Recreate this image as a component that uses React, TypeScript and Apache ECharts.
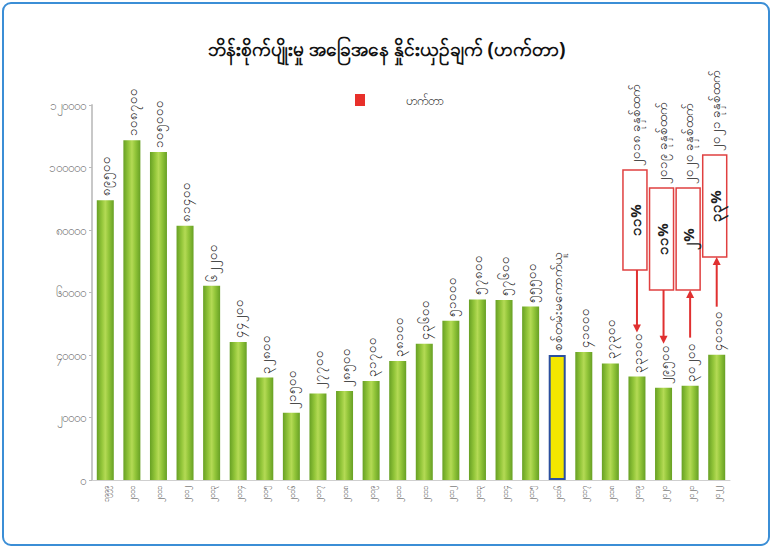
import React, { useEffect, useRef } from "react";
import * as echarts from "echarts";

const titleText = "ဘိန်းစိုက်ပျိုးမှု အခြေအနေ နှိုင်းယှဉ်ချက် (ဟက်တာ)";
const seriesName = "ဟက်တာ";
const years = [
  "၁၉၉၉", "၂၀၀၀", "၂၀၀၁", "၂၀၀၂", "၂၀၀၃", "၂၀၀၄", "၂၀၀၅", "၂၀၀၆",
  "၂၀၀၇", "၂၀၀၈", "၂၀၀၉", "၂၀၁၀", "၂၀၁၁", "၂၀၁၂", "၂၀၁၃", "၂၀၁၄",
  "၂၀၁၅", "၂၀၁၆", "၂၀၁၇", "၂၀၁၈", "၂၀၁၉", "၂၀၂၀", "၂၀၂၁", "၂၀၂၂",
];
const hectares = [
  89500, 108700, 105000, 81400, 62200, 44200, 32800, 21500,
  27700, 28500, 31700, 38100, 43600, 51000, 57800, 57600,
  55500, 40000, 41000, 37300, 33100, 29500, 30200, 40100,
];
const noSurveyIndex = 17;
const noSurveyLabel = "စစ်တမ်းမကောက်ယူ";
const yTicks = ["၀", "၂၀၀၀၀", "၄၀၀၀၀", "၆၀၀၀၀", "၈၀၀၀၀", "၁၀၀၀၀၀", "၁၂၀၀၀၀"];

const annotIndex = [20, 21, 22, 23];
const annotPct = ["၁၁%", "၁၁%", "၂%", "၃၃%"];
const annotNote = ["၂၀၁၈ ခုနှစ်ထက်", "၂၀၁၉ ခုနှစ်ထက်", "၂၀၂၀ ခုနှစ်ထက်", "၂၀၂၁ ခုနှစ်ထက်"];
const annotDir = ["down", "down", "up", "up"];

const mmDigits = ["၀", "၁", "၂", "၃", "၄", "၅", "၆", "၇", "၈", "၉"];
const toMM = (v: number) => String(v).replace(/[0-9]/g, (d) => mmDigits[+d]);

const FONT = "'Noto Sans', 'DejaVu Sans', sans-serif";

export default function App() {
  const ref = useRef<HTMLDivElement>(null);
  useEffect(() => {
    if (!ref.current) return;
    const chart = echarts.init(ref.current, undefined, { renderer: "svg" });
    const green = new echarts.graphic.LinearGradient(0, 0, 1, 0, [
      { offset: 0, color: "#67a024" },
      { offset: 0.3, color: "#93c63a" },
      { offset: 0.5, color: "#b4da55" },
      { offset: 0.7, color: "#93c63a" },
      { offset: 1, color: "#67a024" },
    ]);
    const data = hectares.map((v, i) =>
      i === noSurveyIndex
        ? {
            value: v,
            itemStyle: { color: "#f4e600", borderColor: "#2b4f9e", borderWidth: 2 },
            label: { formatter: noSurveyLabel },
          }
        : { value: v }
    );
    chart.setOption({
      animation: false,
      backgroundColor: "#ffffff",
      textStyle: { fontFamily: FONT },
      title: {
        text: titleText,
        left: "center",
        top: 34,
        textStyle: { fontSize: 19, fontWeight: "bold", color: "#111", fontFamily: FONT },
      },
      legend: {
        data: [{ name: seriesName, itemStyle: { color: "#e8302a" } }],
        left: 350,
        top: 89,
        icon: "rect",
        itemWidth: 10,
        itemHeight: 12,
        textStyle: { fontSize: 12, color: "#333", padding: [0, 0, 0, 36] },
      },
      grid: { left: 92, right: 43, top: 105, bottom: 70 },
      xAxis: {
        type: "category",
        data: years,
        axisLine: { lineStyle: { color: "#cfcfcf" } },
        axisTick: { show: false },
        axisLabel: { rotate: 90, fontSize: 8, color: "#444", margin: 6 },
      },
      yAxis: {
        type: "value",
        min: 0,
        max: 120000,
        interval: 20000,
        axisLine: { show: true, lineStyle: { color: "#c8c8c8", width: 2 } },
        axisTick: { show: true, length: 3, lineStyle: { color: "#bbb" } },
        splitLine: { show: false },
        axisLabel: {
          fontSize: 12,
          color: "#777",
          margin: 6,
          formatter: (v: number) => yTicks[Math.round(v / 20000)],
        },
      },
      series: [
        {
          name: seriesName,
          type: "bar",
          data,
          barWidth: 17,
          itemStyle: { color: green },
          label: {
            show: true,
            position: "top",
            rotate: 90,
            align: "left",
            verticalAlign: "middle",
            distance: 4,
            fontSize: 13,
            color: "#222",
            formatter: (p: any) => toMM(p.value),
          },
        },
      ],
    });

    const graphics: any[] = [
      {
        type: "rect",
        shape: { x: 3, y: 3, width: 766, height: 542, r: 8 },
        style: { fill: "none", stroke: "#3b8ed6", lineWidth: 2 },
        silent: true,
      },
    ];
    const boxTop = [170, 188, 188, 155];
    const boxBottom = [270, 290, 290, 257];
    annotIndex.forEach((idx, k) => {
      const cx = chart.convertToPixel({ xAxisIndex: 0 }, idx) as number;
      const barTop = chart.convertToPixel({ yAxisIndex: 0 }, hectares[idx]) as number;
      const bx = cx - 2;
      const w = 24;
      const top = boxTop[k];
      const bottom = boxBottom[k];
      graphics.push({
        type: "rect",
        shape: { x: bx - w / 2, y: top, width: w, height: bottom - top },
        style: { fill: "#fff", stroke: "#e04040", lineWidth: 1.5 },
      });
      graphics.push({
        type: "text",
        x: bx,
        y: (top + bottom) / 2,
        rotation: Math.PI / 2,
        style: {
          text: annotPct[k],
          fontSize: 15,
          fontWeight: "bold",
          fill: "#222",
          align: "center",
          verticalAlign: "middle",
          fontFamily: FONT,
        },
      });
      graphics.push({
        type: "text",
        x: bx,
        y: top - 4,
        rotation: Math.PI / 2,
        style: {
          text: annotNote[k],
          fontSize: 13,
          fill: "#222",
          align: "left",
          verticalAlign: "middle",
          fontFamily: FONT,
        },
      });
      const labelEnd = barTop - 48;
      const ax = cx;
      if (annotDir[k] === "down") {
        const y2 = labelEnd + 4;
        graphics.push({
          type: "line",
          shape: { x1: ax, y1: bottom, x2: ax, y2: y2 - 6 },
          style: { stroke: "#e03030", lineWidth: 2 },
        });
        graphics.push({
          type: "polygon",
          shape: { points: [[ax - 4, y2 - 8], [ax + 4, y2 - 8], [ax, y2]] },
          style: { fill: "#e03030" },
        });
      } else {
        const y1 = labelEnd;
        graphics.push({
          type: "line",
          shape: { x1: ax, y1: y1, x2: ax, y2: bottom + 6 },
          style: { stroke: "#e03030", lineWidth: 2 },
        });
        graphics.push({
          type: "polygon",
          shape: { points: [[ax - 4, bottom + 8], [ax + 4, bottom + 8], [ax, bottom]] },
          style: { fill: "#e03030" },
        });
      }
    });
    chart.setOption({ graphic: graphics });
    return () => chart.dispose();
  }, []);
  return (
    <div
      ref={ref}
      style={{ position: "fixed", left: 0, top: 0, width: 773, height: 550 }}
    />
  );
}
